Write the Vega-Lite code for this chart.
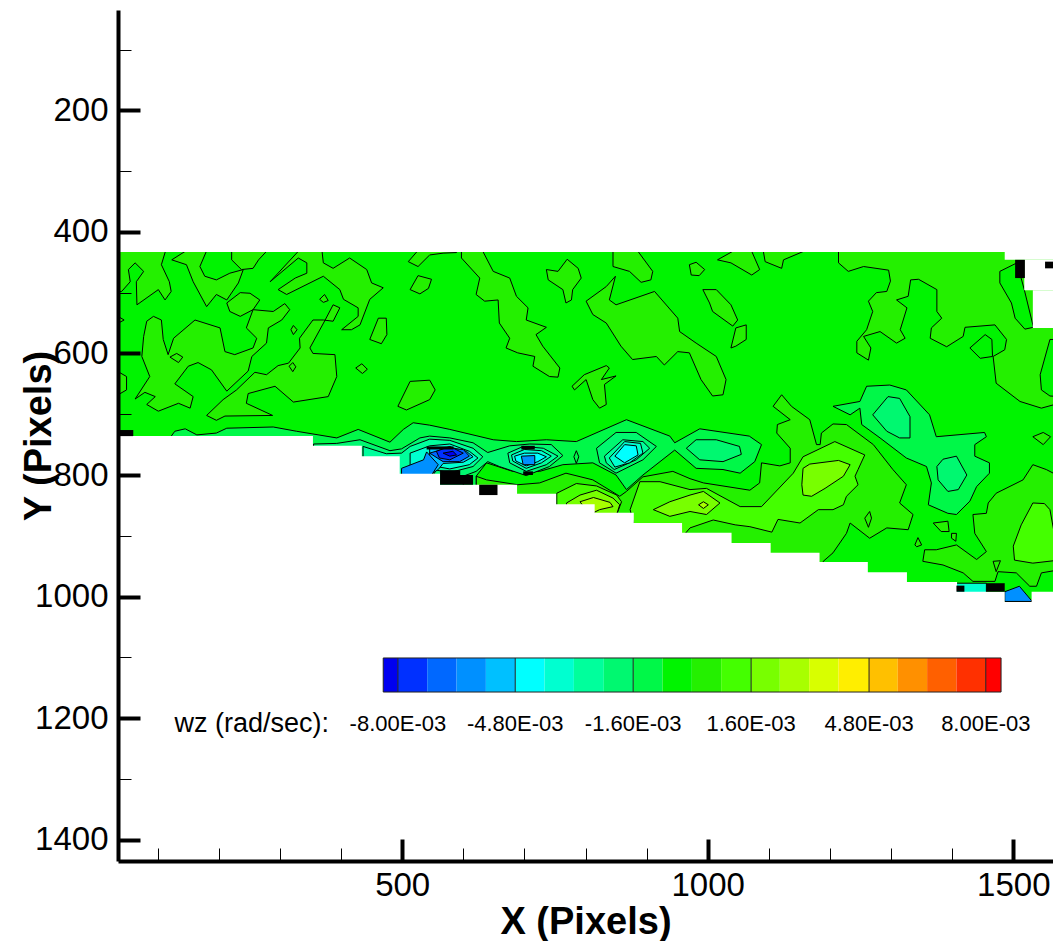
{"$schema":"https://vega.github.io/schema/vega-lite/v6.json","width":935,"height":851,"autosize":"none","padding":{"left":118,"top":10,"right":0,"bottom":80},"background":"white","config":{"view":{"stroke":null},"font":"Liberation Sans"},
"datasets":{
"contours":[
{"id":0,"wz":-0.4,"x":25,"y":424},{"id":0,"wz":-0.4,"x":1575,"y":424},{"id":0,"wz":-0.4,"x":1575,"y":1015},{"id":0,"wz":-0.4,"x":25,"y":1015},
{"id":1,"wz":0.4,"x":115,"y":424},{"id":1,"wz":0.4,"x":106,"y":454},{"id":1,"wz":0.4,"x":119,"y":482},{"id":1,"wz":0.4,"x":122,"y":498},{"id":1,"wz":0.4,"x":112,"y":512},{"id":1,"wz":0.4,"x":101,"y":495},{"id":1,"wz":0.4,"x":66,"y":520},{"id":1,"wz":0.4,"x":65,"y":482},{"id":1,"wz":0.4,"x":77,"y":465},{"id":1,"wz":0.4,"x":63,"y":451},{"id":1,"wz":0.4,"x":52,"y":462},{"id":1,"wz":0.4,"x":55,"y":482},{"id":1,"wz":0.4,"x":41,"y":498},{"id":1,"wz":0.4,"x":30,"y":498},{"id":1,"wz":0.4,"x":30,"y":424},
{"id":2,"wz":0.4,"x":145,"y":424},{"id":2,"wz":0.4,"x":145,"y":432},{"id":2,"wz":0.4,"x":123,"y":446},{"id":2,"wz":0.4,"x":147,"y":454},{"id":2,"wz":0.4,"x":158,"y":482},{"id":2,"wz":0.4,"x":180,"y":523},{"id":2,"wz":0.4,"x":196,"y":503},{"id":2,"wz":0.4,"x":213,"y":512},{"id":2,"wz":0.4,"x":232,"y":484},{"id":2,"wz":0.4,"x":240,"y":462},{"id":2,"wz":0.4,"x":218,"y":468},{"id":2,"wz":0.4,"x":196,"y":479},{"id":2,"wz":0.4,"x":177,"y":473},{"id":2,"wz":0.4,"x":169,"y":457},{"id":2,"wz":0.4,"x":183,"y":424},
{"id":3,"wz":0.4,"x":221,"y":424},{"id":3,"wz":0.4,"x":221,"y":446},{"id":3,"wz":0.4,"x":237,"y":462},{"id":3,"wz":0.4,"x":256,"y":460},{"id":3,"wz":0.4,"x":265,"y":446},{"id":3,"wz":0.4,"x":278,"y":432},{"id":3,"wz":0.4,"x":278,"y":424},
{"id":4,"wz":0.4,"x":213,"y":517},{"id":4,"wz":0.4,"x":235,"y":500},{"id":4,"wz":0.4,"x":251,"y":501},{"id":4,"wz":0.4,"x":267,"y":512},{"id":4,"wz":0.4,"x":256,"y":528},{"id":4,"wz":0.4,"x":235,"y":539},{"id":4,"wz":0.4,"x":218,"y":531},
{"id":5,"wz":0.4,"x":93,"y":539},{"id":5,"wz":0.4,"x":106,"y":545},{"id":5,"wz":0.4,"x":109,"y":577},{"id":5,"wz":0.4,"x":117,"y":602},{"id":5,"wz":0.4,"x":126,"y":575},{"id":5,"wz":0.4,"x":161,"y":545},{"id":5,"wz":0.4,"x":202,"y":558},{"id":5,"wz":0.4,"x":210,"y":597},{"id":5,"wz":0.4,"x":226,"y":602},{"id":5,"wz":0.4,"x":256,"y":591},{"id":5,"wz":0.4,"x":262,"y":575},{"id":5,"wz":0.4,"x":245,"y":558},{"id":5,"wz":0.4,"x":256,"y":528},{"id":5,"wz":0.4,"x":289,"y":531},{"id":5,"wz":0.4,"x":308,"y":518},{"id":5,"wz":0.4,"x":316,"y":528},{"id":5,"wz":0.4,"x":303,"y":545},{"id":5,"wz":0.4,"x":281,"y":558},{"id":5,"wz":0.4,"x":278,"y":583},{"id":5,"wz":0.4,"x":254,"y":605},{"id":5,"wz":0.4,"x":248,"y":629},{"id":5,"wz":0.4,"x":213,"y":662},{"id":5,"wz":0.4,"x":188,"y":627},{"id":5,"wz":0.4,"x":166,"y":615},{"id":5,"wz":0.4,"x":150,"y":621},{"id":5,"wz":0.4,"x":128,"y":650},{"id":5,"wz":0.4,"x":158,"y":671},{"id":5,"wz":0.4,"x":153,"y":690},{"id":5,"wz":0.4,"x":134,"y":682},{"id":5,"wz":0.4,"x":101,"y":695},{"id":5,"wz":0.4,"x":82,"y":684},{"id":5,"wz":0.4,"x":96,"y":671},{"id":5,"wz":0.4,"x":79,"y":664},{"id":5,"wz":0.4,"x":63,"y":675},{"id":5,"wz":0.4,"x":87,"y":638},{"id":5,"wz":0.4,"x":74,"y":605},{"id":5,"wz":0.4,"x":77,"y":572},{"id":5,"wz":0.4,"x":82,"y":547},
{"id":6,"wz":0.4,"x":387,"y":520},{"id":6,"wz":0.4,"x":398,"y":525},{"id":6,"wz":0.4,"x":387,"y":547},{"id":6,"wz":0.4,"x":371,"y":545},{"id":6,"wz":0.4,"x":354,"y":545},{"id":6,"wz":0.4,"x":332,"y":575},{"id":6,"wz":0.4,"x":333,"y":591},{"id":6,"wz":0.4,"x":314,"y":616},{"id":6,"wz":0.4,"x":297,"y":620},{"id":6,"wz":0.4,"x":278,"y":635},{"id":6,"wz":0.4,"x":259,"y":631},{"id":6,"wz":0.4,"x":229,"y":660},{"id":6,"wz":0.4,"x":207,"y":676},{"id":6,"wz":0.4,"x":180,"y":702},{"id":6,"wz":0.4,"x":196,"y":710},{"id":6,"wz":0.4,"x":210,"y":703},{"id":6,"wz":0.4,"x":288,"y":702},{"id":6,"wz":0.4,"x":245,"y":682},{"id":6,"wz":0.4,"x":248,"y":666},{"id":6,"wz":0.4,"x":292,"y":654},{"id":6,"wz":0.4,"x":322,"y":680},{"id":6,"wz":0.4,"x":379,"y":671},{"id":6,"wz":0.4,"x":393,"y":638},{"id":6,"wz":0.4,"x":390,"y":602},{"id":6,"wz":0.4,"x":354,"y":600},{"id":6,"wz":0.4,"x":349,"y":591},{"id":6,"wz":0.4,"x":374,"y":545},
{"id":7,"wz":0.4,"x":368,"y":424},{"id":7,"wz":0.4,"x":371,"y":451},{"id":7,"wz":0.4,"x":387,"y":460},{"id":7,"wz":0.4,"x":414,"y":443},{"id":7,"wz":0.4,"x":442,"y":462},{"id":7,"wz":0.4,"x":450,"y":484},{"id":7,"wz":0.4,"x":469,"y":492},{"id":7,"wz":0.4,"x":447,"y":511},{"id":7,"wz":0.4,"x":431,"y":553},{"id":7,"wz":0.4,"x":417,"y":561},{"id":7,"wz":0.4,"x":401,"y":561},{"id":7,"wz":0.4,"x":428,"y":539},{"id":7,"wz":0.4,"x":428,"y":525},{"id":7,"wz":0.4,"x":404,"y":511},{"id":7,"wz":0.4,"x":398,"y":495},{"id":7,"wz":0.4,"x":371,"y":473},{"id":7,"wz":0.4,"x":311,"y":503},{"id":7,"wz":0.4,"x":297,"y":495},{"id":7,"wz":0.4,"x":325,"y":476},{"id":7,"wz":0.4,"x":344,"y":468},{"id":7,"wz":0.4,"x":344,"y":451},{"id":7,"wz":0.4,"x":330,"y":443},{"id":7,"wz":0.4,"x":284,"y":482},{"id":7,"wz":0.4,"x":330,"y":432},{"id":7,"wz":0.4,"x":330,"y":424},
{"id":8,"wz":0.4,"x":447,"y":577},{"id":8,"wz":0.4,"x":461,"y":542},{"id":8,"wz":0.4,"x":474,"y":542},{"id":8,"wz":0.4,"x":475,"y":569},{"id":8,"wz":0.4,"x":466,"y":584},
{"id":9,"wz":0.4,"x":493,"y":687},{"id":9,"wz":0.4,"x":513,"y":646},{"id":9,"wz":0.4,"x":545,"y":644},{"id":9,"wz":0.4,"x":554,"y":660},{"id":9,"wz":0.4,"x":545,"y":676},{"id":9,"wz":0.4,"x":507,"y":693},
{"id":10,"wz":0.4,"x":510,"y":449},{"id":10,"wz":0.4,"x":526,"y":457},{"id":10,"wz":0.4,"x":545,"y":438},{"id":10,"wz":0.4,"x":567,"y":435},{"id":10,"wz":0.4,"x":589,"y":434},{"id":10,"wz":0.4,"x":589,"y":427},{"id":10,"wz":0.4,"x":529,"y":427},
{"id":11,"wz":0.4,"x":513,"y":495},{"id":11,"wz":0.4,"x":526,"y":472},{"id":11,"wz":0.4,"x":548,"y":478},{"id":11,"wz":0.4,"x":543,"y":493},{"id":11,"wz":0.4,"x":529,"y":502},
{"id":12,"wz":0.4,"x":373,"y":503},{"id":12,"wz":0.4,"x":379,"y":513},{"id":12,"wz":0.4,"x":371,"y":516},{"id":12,"wz":0.4,"x":365,"y":511},
{"id":13,"wz":0.4,"x":322,"y":554},{"id":13,"wz":0.4,"x":328,"y":561},{"id":13,"wz":0.4,"x":322,"y":569},{"id":13,"wz":0.4,"x":318,"y":561},
{"id":14,"wz":0.4,"x":321,"y":615},{"id":14,"wz":0.4,"x":326,"y":622},{"id":14,"wz":0.4,"x":321,"y":630},{"id":14,"wz":0.4,"x":315,"y":621},
{"id":15,"wz":0.4,"x":434,"y":617},{"id":15,"wz":0.4,"x":443,"y":626},{"id":15,"wz":0.4,"x":435,"y":633},{"id":15,"wz":0.4,"x":424,"y":624},
{"id":16,"wz":0.4,"x":131,"y":600},{"id":16,"wz":0.4,"x":141,"y":606},{"id":16,"wz":0.4,"x":134,"y":615},{"id":16,"wz":0.4,"x":120,"y":606},
{"id":17,"wz":0.4,"x":30,"y":627},{"id":17,"wz":0.4,"x":49,"y":638},{"id":17,"wz":0.4,"x":49,"y":660},{"id":17,"wz":0.4,"x":30,"y":671},
{"id":18,"wz":0.4,"x":30,"y":536},{"id":18,"wz":0.4,"x":45,"y":545},{"id":18,"wz":0.4,"x":30,"y":553},
{"id":20,"wz":0.4,"x":597,"y":424},{"id":20,"wz":0.4,"x":597,"y":443},{"id":20,"wz":0.4,"x":627,"y":476},{"id":20,"wz":0.4,"x":621,"y":503},{"id":20,"wz":0.4,"x":635,"y":514},{"id":20,"wz":0.4,"x":657,"y":512},{"id":20,"wz":0.4,"x":659,"y":550},{"id":20,"wz":0.4,"x":676,"y":575},{"id":20,"wz":0.4,"x":670,"y":591},{"id":20,"wz":0.4,"x":689,"y":599},{"id":20,"wz":0.4,"x":717,"y":605},{"id":20,"wz":0.4,"x":714,"y":621},{"id":20,"wz":0.4,"x":741,"y":638},{"id":20,"wz":0.4,"x":755,"y":639},{"id":20,"wz":0.4,"x":758,"y":624},{"id":20,"wz":0.4,"x":730,"y":588},{"id":20,"wz":0.4,"x":719,"y":569},{"id":20,"wz":0.4,"x":736,"y":557},{"id":20,"wz":0.4,"x":703,"y":545},{"id":20,"wz":0.4,"x":706,"y":525},{"id":20,"wz":0.4,"x":687,"y":506},{"id":20,"wz":0.4,"x":676,"y":476},{"id":20,"wz":0.4,"x":649,"y":465},{"id":20,"wz":0.4,"x":632,"y":432},{"id":20,"wz":0.4,"x":632,"y":424},
{"id":21,"wz":0.4,"x":736,"y":462},{"id":21,"wz":0.4,"x":755,"y":465},{"id":21,"wz":0.4,"x":770,"y":445},{"id":21,"wz":0.4,"x":788,"y":460},{"id":21,"wz":0.4,"x":793,"y":476},{"id":21,"wz":0.4,"x":779,"y":495},{"id":21,"wz":0.4,"x":777,"y":512},{"id":21,"wz":0.4,"x":768,"y":517},{"id":21,"wz":0.4,"x":763,"y":495},{"id":21,"wz":0.4,"x":739,"y":479},
{"id":22,"wz":0.4,"x":845,"y":424},{"id":22,"wz":0.4,"x":845,"y":457},{"id":22,"wz":0.4,"x":872,"y":465},{"id":22,"wz":0.4,"x":891,"y":483},{"id":22,"wz":0.4,"x":907,"y":479},{"id":22,"wz":0.4,"x":910,"y":465},{"id":22,"wz":0.4,"x":880,"y":424},
{"id":23,"wz":0.4,"x":801,"y":514},{"id":23,"wz":0.4,"x":834,"y":490},{"id":23,"wz":0.4,"x":849,"y":473},{"id":23,"wz":0.4,"x":839,"y":512},{"id":23,"wz":0.4,"x":850,"y":520},{"id":23,"wz":0.4,"x":913,"y":498},{"id":23,"wz":0.4,"x":951,"y":542},{"id":23,"wz":0.4,"x":954,"y":564},{"id":23,"wz":0.4,"x":981,"y":583},{"id":23,"wz":0.4,"x":1014,"y":605},{"id":23,"wz":0.4,"x":1030,"y":643},{"id":23,"wz":0.4,"x":1025,"y":668},{"id":23,"wz":0.4,"x":1008,"y":670},{"id":23,"wz":0.4,"x":989,"y":643},{"id":23,"wz":0.4,"x":970,"y":599},{"id":23,"wz":0.4,"x":951,"y":597},{"id":23,"wz":0.4,"x":929,"y":619},{"id":23,"wz":0.4,"x":916,"y":605},{"id":23,"wz":0.4,"x":877,"y":610},{"id":23,"wz":0.4,"x":858,"y":588},{"id":23,"wz":0.4,"x":834,"y":550},{"id":23,"wz":0.4,"x":812,"y":536},
{"id":24,"wz":0.4,"x":798,"y":635},{"id":24,"wz":0.4,"x":834,"y":620},{"id":24,"wz":0.4,"x":839,"y":624},{"id":24,"wz":0.4,"x":826,"y":643},{"id":24,"wz":0.4,"x":850,"y":637},{"id":24,"wz":0.4,"x":831,"y":651},{"id":24,"wz":0.4,"x":834,"y":684},{"id":24,"wz":0.4,"x":823,"y":690},{"id":24,"wz":0.4,"x":812,"y":676},{"id":24,"wz":0.4,"x":801,"y":643},{"id":24,"wz":0.4,"x":782,"y":660},{"id":24,"wz":0.4,"x":778,"y":654},
{"id":25,"wz":0.4,"x":970,"y":454},{"id":25,"wz":0.4,"x":981,"y":450},{"id":25,"wz":0.4,"x":995,"y":462},{"id":25,"wz":0.4,"x":986,"y":472},{"id":25,"wz":0.4,"x":973,"y":471},
{"id":26,"wz":0.4,"x":992,"y":495},{"id":26,"wz":0.4,"x":1014,"y":495},{"id":26,"wz":0.4,"x":1038,"y":520},{"id":26,"wz":0.4,"x":1049,"y":545},{"id":26,"wz":0.4,"x":1041,"y":555},{"id":26,"wz":0.4,"x":1008,"y":531},{"id":26,"wz":0.4,"x":1003,"y":517},
{"id":27,"wz":0.4,"x":1038,"y":591},{"id":27,"wz":0.4,"x":1046,"y":558},{"id":27,"wz":0.4,"x":1063,"y":553},{"id":27,"wz":0.4,"x":1063,"y":577},{"id":27,"wz":0.4,"x":1046,"y":588},
{"id":28,"wz":0.4,"x":1016,"y":446},{"id":28,"wz":0.4,"x":1038,"y":451},{"id":28,"wz":0.4,"x":1072,"y":471},{"id":28,"wz":0.4,"x":1085,"y":462},{"id":28,"wz":0.4,"x":1072,"y":432},{"id":28,"wz":0.4,"x":1072,"y":424},{"id":28,"wz":0.4,"x":1041,"y":424},{"id":28,"wz":0.4,"x":1041,"y":432},
{"id":30,"wz":0.4,"x":1091,"y":432},{"id":30,"wz":0.4,"x":1094,"y":449},{"id":30,"wz":0.4,"x":1121,"y":460},{"id":30,"wz":0.4,"x":1124,"y":446},{"id":30,"wz":0.4,"x":1157,"y":432},{"id":30,"wz":0.4,"x":1157,"y":424},{"id":30,"wz":0.4,"x":1091,"y":424},
{"id":31,"wz":0.4,"x":1214,"y":424},{"id":31,"wz":0.4,"x":1214,"y":451},{"id":31,"wz":0.4,"x":1230,"y":465},{"id":31,"wz":0.4,"x":1255,"y":457},{"id":31,"wz":0.4,"x":1296,"y":463},{"id":31,"wz":0.4,"x":1299,"y":481},{"id":31,"wz":0.4,"x":1293,"y":498},{"id":31,"wz":0.4,"x":1276,"y":500},{"id":31,"wz":0.4,"x":1263,"y":514},{"id":31,"wz":0.4,"x":1270,"y":531},{"id":31,"wz":0.4,"x":1260,"y":561},{"id":31,"wz":0.4,"x":1244,"y":580},{"id":31,"wz":0.4,"x":1244,"y":599},{"id":31,"wz":0.4,"x":1263,"y":611},{"id":31,"wz":0.4,"x":1267,"y":591},{"id":31,"wz":0.4,"x":1255,"y":572},{"id":31,"wz":0.4,"x":1282,"y":564},{"id":31,"wz":0.4,"x":1309,"y":583},{"id":31,"wz":0.4,"x":1323,"y":575},{"id":31,"wz":0.4,"x":1315,"y":561},{"id":31,"wz":0.4,"x":1326,"y":525},{"id":31,"wz":0.4,"x":1309,"y":512},{"id":31,"wz":0.4,"x":1328,"y":506},{"id":31,"wz":0.4,"x":1332,"y":479},{"id":31,"wz":0.4,"x":1345,"y":478},{"id":31,"wz":0.4,"x":1375,"y":495},{"id":31,"wz":0.4,"x":1375,"y":531},{"id":31,"wz":0.4,"x":1383,"y":542},{"id":31,"wz":0.4,"x":1366,"y":558},{"id":31,"wz":0.4,"x":1364,"y":575},{"id":31,"wz":0.4,"x":1391,"y":589},{"id":31,"wz":0.4,"x":1418,"y":572},{"id":31,"wz":0.4,"x":1421,"y":557},{"id":31,"wz":0.4,"x":1470,"y":553},{"id":31,"wz":0.4,"x":1489,"y":577},{"id":31,"wz":0.4,"x":1486,"y":594},{"id":31,"wz":0.4,"x":1467,"y":605},{"id":31,"wz":0.4,"x":1472,"y":649},{"id":31,"wz":0.4,"x":1511,"y":679},{"id":31,"wz":0.4,"x":1546,"y":690},{"id":31,"wz":0.4,"x":1575,"y":682},{"id":31,"wz":0.4,"x":1575,"y":424},
{"id":32,"wz":-0.4,"x":1478,"y":465},{"id":32,"wz":-0.4,"x":1506,"y":451},{"id":32,"wz":-0.4,"x":1518,"y":495},{"id":32,"wz":-0.4,"x":1533,"y":557},{"id":32,"wz":-0.4,"x":1519,"y":560},{"id":32,"wz":-0.4,"x":1503,"y":542},{"id":32,"wz":-0.4,"x":1497,"y":517},{"id":32,"wz":-0.4,"x":1478,"y":484},
{"id":33,"wz":-0.4,"x":1560,"y":577},{"id":33,"wz":-0.4,"x":1544,"y":635},{"id":33,"wz":-0.4,"x":1546,"y":660},{"id":33,"wz":-0.4,"x":1560,"y":670},{"id":33,"wz":-0.4,"x":1575,"y":671},{"id":33,"wz":-0.4,"x":1575,"y":577},
{"id":34,"wz":-0.4,"x":1429,"y":591},{"id":34,"wz":-0.4,"x":1454,"y":569},{"id":34,"wz":-0.4,"x":1465,"y":577},{"id":34,"wz":-0.4,"x":1466,"y":605},{"id":34,"wz":-0.4,"x":1446,"y":608},
{"id":40,"wz":0.4,"x":1107,"y":687},{"id":40,"wz":0.4,"x":1121,"y":668},{"id":40,"wz":0.4,"x":1137,"y":687},{"id":40,"wz":0.4,"x":1167,"y":709},{"id":40,"wz":0.4,"x":1178,"y":750},{"id":40,"wz":0.4,"x":1184,"y":750},{"id":40,"wz":0.4,"x":1186,"y":731},{"id":40,"wz":0.4,"x":1205,"y":716},{"id":40,"wz":0.4,"x":1227,"y":717},{"id":40,"wz":0.4,"x":1271,"y":750},{"id":40,"wz":0.4,"x":1303,"y":791},{"id":40,"wz":0.4,"x":1325,"y":816},{"id":40,"wz":0.4,"x":1314,"y":846},{"id":40,"wz":0.4,"x":1336,"y":865},{"id":40,"wz":0.4,"x":1328,"y":890},{"id":40,"wz":0.4,"x":1293,"y":887},{"id":40,"wz":0.4,"x":1265,"y":904},{"id":40,"wz":0.4,"x":1233,"y":879},{"id":40,"wz":0.4,"x":1227,"y":896},{"id":40,"wz":0.4,"x":1205,"y":928},{"id":40,"wz":0.4,"x":1189,"y":942},{"id":40,"wz":0.4,"x":1189,"y":1000},{"id":40,"wz":0.4,"x":621,"y":1000},{"id":40,"wz":0.4,"x":621,"y":802},{"id":40,"wz":0.4,"x":638,"y":808},{"id":40,"wz":0.4,"x":689,"y":816},{"id":40,"wz":0.4,"x":725,"y":813},{"id":40,"wz":0.4,"x":768,"y":797},{"id":40,"wz":0.4,"x":812,"y":808},{"id":40,"wz":0.4,"x":856,"y":835},{"id":40,"wz":0.4,"x":867,"y":827},{"id":40,"wz":0.4,"x":894,"y":803},{"id":40,"wz":0.4,"x":943,"y":794},{"id":40,"wz":0.4,"x":971,"y":806},{"id":40,"wz":0.4,"x":993,"y":813},{"id":40,"wz":0.4,"x":1069,"y":825},{"id":40,"wz":0.4,"x":1085,"y":813},{"id":40,"wz":0.4,"x":1088,"y":780},{"id":40,"wz":0.4,"x":1118,"y":785},{"id":40,"wz":0.4,"x":1135,"y":780},{"id":40,"wz":0.4,"x":1135,"y":756},{"id":40,"wz":0.4,"x":1113,"y":731},{"id":40,"wz":0.4,"x":1114,"y":717},{"id":40,"wz":0.4,"x":1135,"y":709},
{"id":41,"wz":1.2,"x":971,"y":824},{"id":41,"wz":1.2,"x":922,"y":811},{"id":41,"wz":1.2,"x":889,"y":811},{"id":41,"wz":1.2,"x":873,"y":857},{"id":41,"wz":1.2,"x":880,"y":885},{"id":41,"wz":1.2,"x":960,"y":900},{"id":41,"wz":1.2,"x":971,"y":887},{"id":41,"wz":1.2,"x":1009,"y":874},{"id":41,"wz":1.2,"x":1045,"y":882},{"id":41,"wz":1.2,"x":1069,"y":885},{"id":41,"wz":1.2,"x":1105,"y":894},{"id":41,"wz":1.2,"x":1115,"y":873},{"id":41,"wz":1.2,"x":1151,"y":879},{"id":41,"wz":1.2,"x":1181,"y":857},{"id":41,"wz":1.2,"x":1205,"y":857},{"id":41,"wz":1.2,"x":1222,"y":849},{"id":41,"wz":1.2,"x":1227,"y":835},{"id":41,"wz":1.2,"x":1246,"y":816},{"id":41,"wz":1.2,"x":1241,"y":802},{"id":41,"wz":1.2,"x":1246,"y":791},{"id":41,"wz":1.2,"x":1257,"y":767},{"id":41,"wz":1.2,"x":1208,"y":745},{"id":41,"wz":1.2,"x":1156,"y":770},{"id":41,"wz":1.2,"x":1140,"y":797},{"id":41,"wz":1.2,"x":1088,"y":852},{"id":41,"wz":1.2,"x":1053,"y":852},{"id":41,"wz":1.2,"x":998,"y":822},
{"id":42,"wz":2.0,"x":1154,"y":816},{"id":42,"wz":2.0,"x":1156,"y":789},{"id":42,"wz":2.0,"x":1167,"y":782},{"id":42,"wz":2.0,"x":1214,"y":776},{"id":42,"wz":2.0,"x":1233,"y":783},{"id":42,"wz":2.0,"x":1222,"y":802},{"id":42,"wz":2.0,"x":1192,"y":822},{"id":42,"wz":2.0,"x":1170,"y":835},{"id":42,"wz":2.0,"x":1156,"y":833},
{"id":43,"wz":2.0,"x":911,"y":857},{"id":43,"wz":2.0,"x":938,"y":844},{"id":43,"wz":2.0,"x":971,"y":833},{"id":43,"wz":2.0,"x":993,"y":827},{"id":43,"wz":2.0,"x":1020,"y":846},{"id":43,"wz":2.0,"x":998,"y":865},{"id":43,"wz":2.0,"x":971,"y":860},{"id":43,"wz":2.0,"x":938,"y":868},
{"id":44,"wz":2.8,"x":985,"y":849},{"id":44,"wz":2.8,"x":993,"y":844},{"id":44,"wz":2.8,"x":1001,"y":849},{"id":44,"wz":2.8,"x":993,"y":855},
{"id":45,"wz":1.2,"x":753,"y":830},{"id":45,"wz":1.2,"x":785,"y":814},{"id":45,"wz":1.2,"x":818,"y":818},{"id":45,"wz":1.2,"x":851,"y":833},{"id":45,"wz":1.2,"x":859,"y":844},{"id":45,"wz":1.2,"x":851,"y":865},{"id":45,"wz":1.2,"x":753,"y":865},
{"id":46,"wz":2.0,"x":769,"y":846},{"id":46,"wz":2.0,"x":791,"y":833},{"id":46,"wz":2.0,"x":818,"y":825},{"id":46,"wz":2.0,"x":845,"y":838},{"id":46,"wz":2.0,"x":856,"y":849},{"id":46,"wz":2.0,"x":851,"y":865},{"id":46,"wz":2.0,"x":769,"y":865},
{"id":47,"wz":2.8,"x":791,"y":844},{"id":47,"wz":2.8,"x":813,"y":837},{"id":47,"wz":2.8,"x":840,"y":845},{"id":47,"wz":2.8,"x":845,"y":852},{"id":47,"wz":2.8,"x":823,"y":857},{"id":47,"wz":2.8,"x":807,"y":865},
{"id":50,"wz":0.4,"x":1434,"y":865},{"id":50,"wz":0.4,"x":1456,"y":863},{"id":50,"wz":0.4,"x":1459,"y":846},{"id":50,"wz":0.4,"x":1472,"y":830},{"id":50,"wz":0.4,"x":1516,"y":808},{"id":50,"wz":0.4,"x":1532,"y":783},{"id":50,"wz":0.4,"x":1554,"y":791},{"id":50,"wz":0.4,"x":1575,"y":802},{"id":50,"wz":0.4,"x":1575,"y":956},{"id":50,"wz":0.4,"x":1546,"y":961},{"id":50,"wz":0.4,"x":1538,"y":983},{"id":50,"wz":0.4,"x":1527,"y":983},{"id":50,"wz":0.4,"x":1505,"y":961},{"id":50,"wz":0.4,"x":1475,"y":959},{"id":50,"wz":0.4,"x":1470,"y":975},{"id":50,"wz":0.4,"x":1434,"y":975},{"id":50,"wz":0.4,"x":1418,"y":961},{"id":50,"wz":0.4,"x":1385,"y":948},{"id":50,"wz":0.4,"x":1352,"y":942},{"id":50,"wz":0.4,"x":1355,"y":923},{"id":50,"wz":0.4,"x":1374,"y":923},{"id":50,"wz":0.4,"x":1407,"y":915},{"id":50,"wz":0.4,"x":1440,"y":939},{"id":50,"wz":0.4,"x":1456,"y":926},{"id":50,"wz":0.4,"x":1437,"y":896},
{"id":51,"wz":1.2,"x":1500,"y":917},{"id":51,"wz":1.2,"x":1513,"y":882},{"id":51,"wz":1.2,"x":1532,"y":846},{"id":51,"wz":1.2,"x":1551,"y":847},{"id":51,"wz":1.2,"x":1560,"y":857},{"id":51,"wz":1.2,"x":1575,"y":940},{"id":51,"wz":1.2,"x":1532,"y":945},{"id":51,"wz":1.2,"x":1502,"y":940},
{"id":52,"wz":0.4,"x":1369,"y":879},{"id":52,"wz":0.4,"x":1393,"y":876},{"id":52,"wz":0.4,"x":1395,"y":893},{"id":52,"wz":0.4,"x":1382,"y":893},
{"id":53,"wz":0.4,"x":1399,"y":896},{"id":53,"wz":0.4,"x":1407,"y":896},{"id":53,"wz":0.4,"x":1406,"y":909},{"id":53,"wz":0.4,"x":1399,"y":904},
{"id":54,"wz":0.4,"x":1339,"y":915},{"id":54,"wz":0.4,"x":1344,"y":903},{"id":54,"wz":0.4,"x":1350,"y":915},{"id":54,"wz":0.4,"x":1342,"y":918},
{"id":55,"wz":0.4,"x":1257,"y":871},{"id":55,"wz":0.4,"x":1265,"y":860},{"id":55,"wz":0.4,"x":1268,"y":871},{"id":55,"wz":0.4,"x":1263,"y":886},
{"id":56,"wz":0.4,"x":1467,"y":942},{"id":56,"wz":0.4,"x":1479,"y":941},{"id":56,"wz":0.4,"x":1472,"y":959},
{"id":57,"wz":0.4,"x":1532,"y":737},{"id":57,"wz":0.4,"x":1549,"y":730},{"id":57,"wz":0.4,"x":1561,"y":737},{"id":57,"wz":0.4,"x":1549,"y":750},
{"id":60,"wz":-1.2,"x":120,"y":739},{"id":60,"wz":-1.2,"x":128,"y":728},{"id":60,"wz":-1.2,"x":145,"y":724},{"id":60,"wz":-1.2,"x":164,"y":734},{"id":60,"wz":-1.2,"x":196,"y":731},{"id":60,"wz":-1.2,"x":213,"y":723},{"id":60,"wz":-1.2,"x":289,"y":721},{"id":60,"wz":-1.2,"x":327,"y":728},{"id":60,"wz":-1.2,"x":393,"y":739},{"id":60,"wz":-1.2,"x":428,"y":725},{"id":60,"wz":-1.2,"x":480,"y":746},{"id":60,"wz":-1.2,"x":502,"y":725},{"id":60,"wz":-1.2,"x":518,"y":714},{"id":60,"wz":-1.2,"x":545,"y":718},{"id":60,"wz":-1.2,"x":578,"y":725},{"id":60,"wz":-1.2,"x":649,"y":742},{"id":60,"wz":-1.2,"x":687,"y":745},{"id":60,"wz":-1.2,"x":736,"y":742},{"id":60,"wz":-1.2,"x":785,"y":745},{"id":60,"wz":-1.2,"x":867,"y":709},{"id":60,"wz":-1.2,"x":938,"y":736},{"id":60,"wz":-1.2,"x":946,"y":747},{"id":60,"wz":-1.2,"x":987,"y":724},{"id":60,"wz":-1.2,"x":1068,"y":736},{"id":60,"wz":-1.2,"x":1088,"y":750},{"id":60,"wz":-1.2,"x":1077,"y":778},{"id":60,"wz":-1.2,"x":1053,"y":797},{"id":60,"wz":-1.2,"x":1025,"y":791},{"id":60,"wz":-1.2,"x":981,"y":789},{"id":60,"wz":-1.2,"x":946,"y":759},{"id":60,"wz":-1.2,"x":894,"y":800},{"id":60,"wz":-1.2,"x":867,"y":824},{"id":60,"wz":-1.2,"x":850,"y":800},{"id":60,"wz":-1.2,"x":812,"y":780},{"id":60,"wz":-1.2,"x":763,"y":783},{"id":60,"wz":-1.2,"x":725,"y":794},{"id":60,"wz":-1.2,"x":681,"y":794},{"id":60,"wz":-1.2,"x":638,"y":780},{"id":60,"wz":-1.2,"x":621,"y":802},{"id":60,"wz":-1.2,"x":621,"y":860},{"id":60,"wz":-1.2,"x":120,"y":860},
{"id":61,"wz":-2.0,"x":355,"y":749},{"id":61,"wz":-2.0,"x":393,"y":748},{"id":61,"wz":-2.0,"x":431,"y":742},{"id":61,"wz":-2.0,"x":480,"y":760},{"id":61,"wz":-2.0,"x":499,"y":757},{"id":61,"wz":-2.0,"x":529,"y":739},{"id":61,"wz":-2.0,"x":545,"y":736},{"id":61,"wz":-2.0,"x":578,"y":739},{"id":61,"wz":-2.0,"x":616,"y":747},{"id":61,"wz":-2.0,"x":640,"y":763},{"id":61,"wz":-2.0,"x":676,"y":752},{"id":61,"wz":-2.0,"x":709,"y":749},{"id":61,"wz":-2.0,"x":744,"y":750},{"id":61,"wz":-2.0,"x":763,"y":768},{"id":61,"wz":-2.0,"x":741,"y":786},{"id":61,"wz":-2.0,"x":703,"y":801},{"id":61,"wz":-2.0,"x":659,"y":786},{"id":61,"wz":-2.0,"x":640,"y":778},{"id":61,"wz":-2.0,"x":621,"y":794},{"id":61,"wz":-2.0,"x":600,"y":802},{"id":61,"wz":-2.0,"x":600,"y":860},{"id":61,"wz":-2.0,"x":355,"y":860},
{"id":62,"wz":-2.8,"x":436,"y":753},{"id":62,"wz":-2.8,"x":474,"y":765},{"id":62,"wz":-2.8,"x":499,"y":764},{"id":62,"wz":-2.8,"x":513,"y":753},{"id":62,"wz":-2.8,"x":545,"y":741},{"id":62,"wz":-2.8,"x":578,"y":743},{"id":62,"wz":-2.8,"x":616,"y":756},{"id":62,"wz":-2.8,"x":632,"y":770},{"id":62,"wz":-2.8,"x":616,"y":786},{"id":62,"wz":-2.8,"x":578,"y":796},{"id":62,"wz":-2.8,"x":556,"y":792},{"id":62,"wz":-2.8,"x":545,"y":808},{"id":62,"wz":-2.8,"x":545,"y":860},{"id":62,"wz":-2.8,"x":436,"y":860},
{"id":63,"wz":-3.6,"x":513,"y":764},{"id":63,"wz":-3.6,"x":545,"y":752},{"id":63,"wz":-3.6,"x":578,"y":749},{"id":63,"wz":-3.6,"x":610,"y":761},{"id":63,"wz":-3.6,"x":624,"y":772},{"id":63,"wz":-3.6,"x":610,"y":783},{"id":63,"wz":-3.6,"x":578,"y":790},{"id":63,"wz":-3.6,"x":556,"y":786},{"id":63,"wz":-3.6,"x":545,"y":797},{"id":63,"wz":-3.6,"x":513,"y":800},
{"id":64,"wz":-5.2,"x":545,"y":756},{"id":64,"wz":-5.2,"x":578,"y":754},{"id":64,"wz":-5.2,"x":605,"y":761},{"id":64,"wz":-5.2,"x":616,"y":770},{"id":64,"wz":-5.2,"x":600,"y":779},{"id":64,"wz":-5.2,"x":567,"y":781},{"id":64,"wz":-5.2,"x":559,"y":791},{"id":64,"wz":-5.2,"x":545,"y":800},
{"id":65,"wz":-6.0,"x":499,"y":789},{"id":65,"wz":-6.0,"x":535,"y":775},{"id":65,"wz":-6.0,"x":540,"y":762},{"id":65,"wz":-6.0,"x":559,"y":783},{"id":65,"wz":-6.0,"x":545,"y":805},{"id":65,"wz":-6.0,"x":499,"y":805},
{"id":66,"wz":-6.8,"x":545,"y":764},{"id":66,"wz":-6.8,"x":572,"y":756},{"id":66,"wz":-6.8,"x":600,"y":758},{"id":66,"wz":-6.8,"x":610,"y":769},{"id":66,"wz":-6.8,"x":594,"y":778},{"id":66,"wz":-6.8,"x":567,"y":778},
{"id":67,"wz":-7.6,"x":556,"y":761},{"id":67,"wz":-7.6,"x":578,"y":753},{"id":67,"wz":-7.6,"x":600,"y":764},{"id":67,"wz":-7.6,"x":578,"y":775},{"id":67,"wz":-7.6,"x":561,"y":772},
{"id":68,"wz":-8.4,"x":567,"y":764},{"id":68,"wz":-8.4,"x":583,"y":761},{"id":68,"wz":-8.4,"x":589,"y":767},{"id":68,"wz":-8.4,"x":578,"y":769},
{"id":70,"wz":-2.8,"x":673,"y":764},{"id":70,"wz":-2.8,"x":698,"y":753},{"id":70,"wz":-2.8,"x":731,"y":756},{"id":70,"wz":-2.8,"x":755,"y":769},{"id":70,"wz":-2.8,"x":736,"y":783},{"id":70,"wz":-2.8,"x":703,"y":794},{"id":70,"wz":-2.8,"x":676,"y":780},
{"id":71,"wz":-3.6,"x":679,"y":767},{"id":71,"wz":-3.6,"x":700,"y":758},{"id":71,"wz":-3.6,"x":728,"y":760},{"id":71,"wz":-3.6,"x":744,"y":769},{"id":71,"wz":-3.6,"x":728,"y":780},{"id":71,"wz":-3.6,"x":703,"y":789},{"id":71,"wz":-3.6,"x":681,"y":777},
{"id":72,"wz":-4.4,"x":684,"y":769},{"id":72,"wz":-4.4,"x":700,"y":764},{"id":72,"wz":-4.4,"x":722,"y":764},{"id":72,"wz":-4.4,"x":736,"y":770},{"id":72,"wz":-4.4,"x":722,"y":778},{"id":72,"wz":-4.4,"x":703,"y":785},{"id":72,"wz":-4.4,"x":686,"y":777},
{"id":73,"wz":-6.0,"x":695,"y":769},{"id":73,"wz":-6.0,"x":717,"y":768},{"id":73,"wz":-6.0,"x":717,"y":783},{"id":73,"wz":-6.0,"x":698,"y":783},
{"id":74,"wz":-2.0,"x":818,"y":756},{"id":74,"wz":-2.0,"x":850,"y":730},{"id":74,"wz":-2.0,"x":883,"y":730},{"id":74,"wz":-2.0,"x":916,"y":753},{"id":74,"wz":-2.0,"x":894,"y":775},{"id":74,"wz":-2.0,"x":850,"y":797},{"id":74,"wz":-2.0,"x":823,"y":780},
{"id":75,"wz":-2.8,"x":831,"y":769},{"id":75,"wz":-2.8,"x":861,"y":742},{"id":75,"wz":-2.8,"x":894,"y":745},{"id":75,"wz":-2.8,"x":905,"y":756},{"id":75,"wz":-2.8,"x":883,"y":775},{"id":75,"wz":-2.8,"x":847,"y":791},{"id":75,"wz":-2.8,"x":834,"y":780},
{"id":76,"wz":-3.6,"x":839,"y":772},{"id":76,"wz":-3.6,"x":864,"y":745},{"id":76,"wz":-3.6,"x":890,"y":748},{"id":76,"wz":-3.6,"x":894,"y":764},{"id":76,"wz":-3.6,"x":872,"y":780},{"id":76,"wz":-3.6,"x":848,"y":787},
{"id":77,"wz":-4.4,"x":848,"y":769},{"id":77,"wz":-4.4,"x":864,"y":750},{"id":77,"wz":-4.4,"x":883,"y":752},{"id":77,"wz":-4.4,"x":886,"y":767},{"id":77,"wz":-4.4,"x":864,"y":780},
{"id":78,"wz":-2.0,"x":965,"y":756},{"id":78,"wz":-2.0,"x":981,"y":742},{"id":78,"wz":-2.0,"x":1014,"y":742},{"id":78,"wz":-2.0,"x":1052,"y":753},{"id":78,"wz":-2.0,"x":1055,"y":766},{"id":78,"wz":-2.0,"x":1025,"y":778},{"id":78,"wz":-2.0,"x":987,"y":775},
{"id":79,"wz":-1.2,"x":785,"y":760},{"id":79,"wz":-1.2,"x":789,"y":770},{"id":79,"wz":-1.2,"x":785,"y":781},{"id":79,"wz":-1.2,"x":781,"y":770},
{"id":80,"wz":-1.2,"x":1205,"y":687},{"id":80,"wz":-1.2,"x":1249,"y":679},{"id":80,"wz":-1.2,"x":1260,"y":654},{"id":80,"wz":-1.2,"x":1298,"y":652},{"id":80,"wz":-1.2,"x":1325,"y":660},{"id":80,"wz":-1.2,"x":1363,"y":701},{"id":80,"wz":-1.2,"x":1374,"y":737},{"id":80,"wz":-1.2,"x":1453,"y":730},{"id":80,"wz":-1.2,"x":1456,"y":737},{"id":80,"wz":-1.2,"x":1437,"y":750},{"id":80,"wz":-1.2,"x":1437,"y":769},{"id":80,"wz":-1.2,"x":1461,"y":780},{"id":80,"wz":-1.2,"x":1461,"y":797},{"id":80,"wz":-1.2,"x":1440,"y":819},{"id":80,"wz":-1.2,"x":1429,"y":843},{"id":80,"wz":-1.2,"x":1407,"y":865},{"id":80,"wz":-1.2,"x":1393,"y":863},{"id":80,"wz":-1.2,"x":1361,"y":849},{"id":80,"wz":-1.2,"x":1366,"y":813},{"id":80,"wz":-1.2,"x":1358,"y":786},{"id":80,"wz":-1.2,"x":1325,"y":772},{"id":80,"wz":-1.2,"x":1282,"y":739},{"id":80,"wz":-1.2,"x":1252,"y":717},{"id":80,"wz":-1.2,"x":1249,"y":690},{"id":80,"wz":-1.2,"x":1233,"y":701},
{"id":81,"wz":-2.0,"x":1270,"y":701},{"id":81,"wz":-2.0,"x":1295,"y":671},{"id":81,"wz":-2.0,"x":1314,"y":674},{"id":81,"wz":-2.0,"x":1331,"y":704},{"id":81,"wz":-2.0,"x":1331,"y":739},{"id":81,"wz":-2.0,"x":1314,"y":739},{"id":81,"wz":-2.0,"x":1293,"y":728},
{"id":82,"wz":-2.0,"x":1375,"y":786},{"id":82,"wz":-2.0,"x":1385,"y":774},{"id":82,"wz":-2.0,"x":1407,"y":769},{"id":82,"wz":-2.0,"x":1424,"y":800},{"id":82,"wz":-2.0,"x":1410,"y":824},{"id":82,"wz":-2.0,"x":1393,"y":827},{"id":82,"wz":-2.0,"x":1377,"y":808},
{"id":83,"wz":-3.6,"x":1407,"y":978},{"id":83,"wz":-3.6,"x":1456,"y":978},{"id":83,"wz":-3.6,"x":1456,"y":995},{"id":83,"wz":-3.6,"x":1407,"y":995},
{"id":84,"wz":-6.0,"x":1486,"y":992},{"id":84,"wz":-6.0,"x":1510,"y":983},{"id":84,"wz":-6.0,"x":1531,"y":1008},{"id":84,"wz":-6.0,"x":1486,"y":1008}
],
"noData":[
{"x0":25,"x1":1575,"y0":30,"y1":433},{"x0":1486,"x1":1575,"y0":433,"y1":446},{"x0":1518,"x1":1575,"y0":446,"y1":496},{"x0":1532,"x1":1575,"y0":496,"y1":558},
{"x0":25,"x1":354,"y0":736,"y1":1440},{"x0":25,"x1":434,"y0":752,"y1":1440},{"x0":25,"x1":496,"y0":769,"y1":1440},{"x0":25,"x1":562,"y0":798,"y1":1440},{"x0":25,"x1":688,"y0":816,"y1":1440},{"x0":25,"x1":752,"y0":831,"y1":1440},{"x0":25,"x1":815,"y0":848,"y1":1440},{"x0":25,"x1":879,"y0":862,"y1":1440},{"x0":25,"x1":958,"y0":879,"y1":1440},{"x0":25,"x1":1039,"y0":895,"y1":1440},{"x0":25,"x1":1103,"y0":912,"y1":1440},{"x0":25,"x1":1183,"y0":928,"y1":1440},{"x0":25,"x1":1262,"y0":943,"y1":1440},{"x0":25,"x1":1326,"y0":960,"y1":1440},{"x0":25,"x1":1408,"y0":976,"y1":1440},{"x0":25,"x1":1486,"y0":992,"y1":1440},{"x0":25,"x1":1532,"y0":1009,"y1":1440},{"x0":1530,"x1":1575,"y0":992,"y1":1440}
],
"dense":[
{"x0":562,"x1":616,"y0":800,"y1":816},{"x0":562,"x1":595,"y0":792,"y1":800},{"x0":626,"x1":656,"y0":816,"y1":833},{"x0":38,"x1":60,"y0":726,"y1":736},{"x0":695,"x1":717,"y0":752,"y1":758},{"x0":698,"x1":714,"y0":794,"y1":800},{"x0":540,"x1":584,"y0":753,"y1":758},{"x0":1456,"x1":1486,"y0":978,"y1":992},{"x0":1407,"x1":1420,"y0":982,"y1":992},{"x0":1503,"x1":1519,"y0":446,"y1":476},{"x0":1552,"x1":1565,"y0":449,"y1":460}
],
"scaleBar":[
{"wz":-8.4,"x0":469,"x1":493},{"wz":-7.6,"x0":493,"x1":541},{"wz":-6.8,"x0":541,"x1":589},{"wz":-6.0,"x0":589,"x1":637},{"wz":-5.2,"x0":637,"x1":685},{"wz":-4.4,"x0":685,"x1":733},{"wz":-3.6,"x0":733,"x1":781},{"wz":-2.8,"x0":781,"x1":830},{"wz":-2.0,"x0":830,"x1":878},{"wz":-1.2,"x0":878,"x1":926},{"wz":-0.4,"x0":926,"x1":974},{"wz":0.4,"x0":974,"x1":1022},{"wz":1.2,"x0":1022,"x1":1071},{"wz":2.0,"x0":1071,"x1":1118},{"wz":2.8,"x0":1118,"x1":1166},{"wz":3.6,"x0":1166,"x1":1214},{"wz":4.4,"x0":1214,"x1":1264},{"wz":5.2,"x0":1264,"x1":1311},{"wz":6.0,"x0":1311,"x1":1359},{"wz":6.8,"x0":1359,"x1":1407},{"wz":7.6,"x0":1407,"x1":1455},{"wz":8.4,"x0":1455,"x1":1480}
],
"scaleLabels":[
{"text":"-8.00E-03","x":493},{"text":"-4.80E-03","x":685},{"text":"-1.60E-03","x":878},{"text":"1.60E-03","x":1071},{"text":"4.80E-03","x":1264},{"text":"8.00E-03","x":1455}
]
},
"layer":[
{"data":{"name":"contours"},"mark":{"type":"line","interpolate":"linear-closed","stroke":"black","strokeWidth":1,"clip":true,"order":false},
"encoding":{
"x":{"field":"x","type":"quantitative","scale":{"domain":[35,1565],"nice":false,"zero":false},"title":"X (Pixels)","axis":{"zindex":1,"values":[100,200,300,400,500,600,700,800,900,1000,1100,1200,1300,1400,1500],"labelExpr":"datum.value % 500 === 0 ? datum.label : ''","format":"d","grid":false,"domainColor":"black","domainWidth":4,"tickColor":"black","tickSize":{"condition":{"test":"datum.value % 500 === 0","value":-22},"value":-13},"tickWidth":{"condition":{"test":"datum.value % 500 === 0","value":4},"value":1},"labelFont":"Liberation Sans","labelFontSize":33,"labelColor":"black","labelPadding":30,"labelOverlap":false,"titleFont":"Liberation Sans","titleFontSize":38,"titleFontWeight":"bold","titleColor":"black","titlePadding":-8}},
"y":{"field":"y","type":"quantitative","scale":{"domain":[1435,35],"nice":false,"zero":false},"title":"Y (Pixels)","axis":{"zindex":1,"values":[50,100,150,200,250,300,350,400,450,500,550,600,650,700,750,800,850,900,950,1000,1050,1100,1150,1200,1250,1300,1350,1400],"labelExpr":"datum.value % 200 === 0 ? datum.label : ''","format":"d","grid":false,"domainColor":"black","domainWidth":4,"tickColor":"black","tickSize":{"condition":{"test":"datum.value % 200 === 0","value":-22},"value":-13},"tickWidth":{"condition":{"test":"datum.value % 200 === 0","value":4},"value":1},"labelFont":"Liberation Sans","labelFontSize":33,"labelColor":"black","labelPadding":32,"labelOverlap":false,"titleFont":"Liberation Sans","titleFontSize":38,"titleFontWeight":"bold","titleColor":"black","titlePadding":-24}},
"detail":{"field":"id","type":"nominal"},
"fill":{"field":"wz","type":"quantitative","legend":null,"scale":{"type":"threshold","domain":[-8,-7.2,-6.4,-5.6,-4.8,-4,-3.2,-2.4,-1.6,-0.8,0,0.8,1.6,2.4,3.2,4,4.8,5.6,6.4,7.2,8],"range":["#0000f0","#0030ff","#0068ff","#0090ff","#00c0ff","#00ffff","#00ffd0","#00ff9c","#00f870","#00f848","#00f400","#24f000","#44ff00","#78ff00","#a8ff00","#d8ff00","#ffee00","#ffc000","#ff9000","#ff6000","#ff3000","#ff0000"]}}
}},
{"data":{"name":"noData"},"mark":{"type":"rect","fill":"white","clip":true},"encoding":{"x":{"field":"x0","type":"quantitative","scale":{"domain":[35,1565],"nice":false,"zero":false}},"x2":{"field":"x1"},"y":{"field":"y0","type":"quantitative","scale":{"domain":[1435,35],"nice":false,"zero":false}},"y2":{"field":"y1"}}},
{"data":{"name":"dense"},"mark":{"type":"rect","fill":"black","clip":true},"encoding":{"x":{"field":"x0","type":"quantitative","scale":{"domain":[35,1565],"nice":false,"zero":false}},"x2":{"field":"x1"},"y":{"field":"y0","type":"quantitative","scale":{"domain":[1435,35],"nice":false,"zero":false}},"y2":{"field":"y1"}}},
{"data":{"name":"scaleBar"},"mark":{"type":"rect","strokeWidth":0},"encoding":{"x":{"field":"x0","type":"quantitative","scale":{"domain":[35,1565],"nice":false,"zero":false}},"x2":{"field":"x1"},"y":{"datum":1101,"type":"quantitative","scale":{"domain":[1435,35],"nice":false,"zero":false}},"y2":{"datum":1157},"fill":{"field":"wz","type":"quantitative","legend":null,"scale":{"type":"threshold","domain":[-8,-7.2,-6.4,-5.6,-4.8,-4,-3.2,-2.4,-1.6,-0.8,0,0.8,1.6,2.4,3.2,4,4.8,5.6,6.4,7.2,8],"range":["#0000f0","#0030ff","#0068ff","#0090ff","#00c0ff","#00ffff","#00ffd0","#00ff9c","#00f870","#00f848","#00f400","#24f000","#44ff00","#78ff00","#a8ff00","#d8ff00","#ffee00","#ffc000","#ff9000","#ff6000","#ff3000","#ff0000"]}}}},
{"data":{"name":"scaleLabels"},"mark":{"type":"rule","color":"#222","strokeWidth":1},"encoding":{"x":{"field":"x","type":"quantitative","scale":{"domain":[35,1565],"nice":false,"zero":false}},"y":{"datum":1101,"type":"quantitative","scale":{"domain":[1435,35],"nice":false,"zero":false}},"y2":{"datum":1157}}},
{"data":{"values":[{"x0":469,"x1":1480}]},"mark":{"type":"rect","fill":null,"stroke":"#222","strokeWidth":1},"encoding":{"x":{"field":"x0","type":"quantitative","scale":{"domain":[35,1565],"nice":false,"zero":false}},"x2":{"field":"x1"},"y":{"datum":1101,"type":"quantitative","scale":{"domain":[1435,35],"nice":false,"zero":false}},"y2":{"datum":1157}}},
{"data":{"name":"scaleLabels"},"mark":{"type":"text","font":"Liberation Sans","fontSize":22,"color":"black","baseline":"middle","align":"center"},"encoding":{"x":{"field":"x","type":"quantitative","scale":{"domain":[35,1565],"nice":false,"zero":false}},"y":{"datum":1210,"type":"quantitative","scale":{"domain":[1435,35],"nice":false,"zero":false}},"text":{"field":"text"}}},
{"data":{"values":[{"text":"wz (rad/sec):","x":254}]},"mark":{"type":"text","font":"Liberation Sans","fontSize":27,"color":"black","baseline":"middle","align":"center"},"encoding":{"x":{"field":"x","type":"quantitative","scale":{"domain":[35,1565],"nice":false,"zero":false}},"y":{"datum":1210,"type":"quantitative","scale":{"domain":[1435,35],"nice":false,"zero":false}},"text":{"field":"text"}}}
]}
